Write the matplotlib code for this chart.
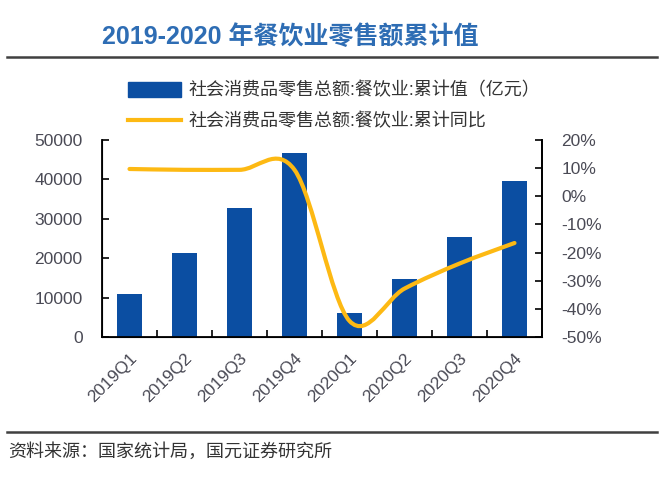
import numpy as np
import matplotlib
matplotlib.use("Agg")
import matplotlib.pyplot as plt
from matplotlib.lines import Line2D
from matplotlib.patches import Patch
from matplotlib.path import Path
from matplotlib.patches import PathPatch

plt.rcParams['font.family'] = ['Liberation Sans', 'Noto Sans CJK SC', 'DejaVu Sans']

categories = ["2019Q1", "2019Q2", "2019Q3", "2019Q4", "2020Q1", "2020Q2", "2020Q3", "2020Q4"]
values = [10800, 21300, 32700, 46800, 6100, 14700, 25300, 39600]
yoy = [9.7, 9.4, 9.4, 9.4, -44.3, -32.8, -23.9, -16.6]
left_ticks = [0, 10000, 20000, 30000, 40000, 50000]
right_ticks = [-50, -40, -30, -20, -10, 0, 10, 20]

title = "2019-2020 年餐饮业零售额累计值"
bar_label = "社会消费品零售总额:餐饮业:累计值（亿元）"
line_label = "社会消费品零售总额:餐饮业:累计同比"
source = "资料来源：国家统计局，国元证券研究所"

BLUE = '#0B4EA2'
ORANGE = '#FDB913'
TXT = '#4A4A55'

fig = plt.figure(figsize=(6.62, 4.8), dpi=100)
ax = fig.add_axes([102/662, 1-337/480, 440/662, 197/480])
x = np.arange(len(categories))
ax.bar(x, values, width=0.44, color=BLUE, zorder=2)
ax.set_xlim(-0.5, len(categories)-0.5)
ax.set_ylim(0, 50000)
ax.set_yticks(left_ticks)
ax.set_yticklabels([str(v) for v in left_ticks], color=TXT, fontsize=12.5)
ax.set_xticks(x)
ax.set_xticklabels(categories, rotation=45, ha='right', rotation_mode='anchor', color=TXT, fontsize=12.5)
ax.tick_params(axis='x', length=0, pad=10)
ax.set_xticks(np.arange(-0.5, len(categories)), minor=True)
ax.tick_params(axis='x', which='minor', direction='in', length=5, width=1.2)
ax.tick_params(axis='y', direction='in', length=5, width=1.2, pad=14)
ax.spines['top'].set_visible(False)
for s in ['left', 'right', 'bottom']:
    ax.spines[s].set_linewidth(1.3)

ax2 = ax.twinx()
ax2.set_ylim(-50, 20)
ax2.set_yticks(right_ticks)
ax2.set_yticklabels([f"{v}%" for v in right_ticks], color=TXT, fontsize=12.5)
ax2.tick_params(axis='y', direction='in', length=5, width=1.2, pad=14)
ax2.spines['top'].set_visible(False)
ax2.spines['right'].set_linewidth(1.3)

# smoothed line (Excel-style cubic Bezier through data points)
px = x.astype(float)
py = np.array(yoy, dtype=float)
verts = [(px[0], py[0])]
codes = [Path.MOVETO]
n = len(px)
for i in range(n-1):
    p0 = (px[i-1], py[i-1]) if i > 0 else (px[i], py[i])
    p1 = (px[i], py[i]); p2 = (px[i+1], py[i+1])
    p3 = (px[i+2], py[i+2]) if i+2 < n else (px[i+1], py[i+1])
    c1 = (p1[0] + (p2[0]-p0[0])/6, p1[1] + (p2[1]-p0[1])/6)
    c2 = (p2[0] - (p3[0]-p1[0])/6, p2[1] - (p3[1]-p1[1])/6)
    verts += [c1, c2, p2]
    codes += [Path.CURVE4]*3
ax2.add_patch(PathPatch(Path(verts, codes), facecolor='none', edgecolor=ORANGE, lw=3, capstyle='round', zorder=3))

handles = [Patch(facecolor=BLUE, edgecolor=BLUE), Line2D([0], [0], color=ORANGE, lw=3)]
fig.legend(handles, [bar_label, line_label], loc='upper left', bbox_to_anchor=(112/662, 1-66/480),
           frameon=False, fontsize=13, handlelength=2.9, handleheight=0.85, labelspacing=0.75,
           handletextpad=0.45, labelcolor='#333333')

fig.text(290/662, 1-37/480, title, ha='center', va='center', fontsize=18, fontweight='bold', color='#2E6DB4')
fig.add_artist(Line2D([7/662, 657/662], [1-57/480]*2, color='#404040', lw=1.8))
fig.add_artist(Line2D([7/662, 657/662], [1-432/480]*2, color='#404040', lw=1.8))
fig.text(8/662, 1-452/480, source, ha='left', va='center', fontsize=13, color='#333333')

fig.savefig("out.png", dpi=100)
